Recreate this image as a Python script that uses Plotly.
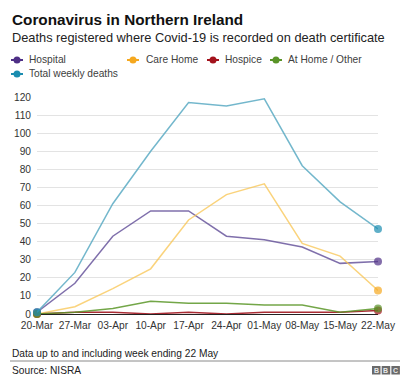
import plotly.graph_objects as go

weeks = ["20-Mar", "27-Mar", "03-Apr", "10-Apr", "17-Apr", "24-Apr", "01-May", "08-May", "15-May", "22-May"]
hospital = [1, 17, 43, 57, 57, 43, 41, 37, 28, 29]
care_home = [0, 4, 14, 25, 52, 66, 72, 39, 32, 13]
hospice = [0, 1, 1, 0, 1, 0, 1, 1, 1, 2]
at_home = [0, 1, 3, 7, 6, 6, 5, 5, 1, 3]
total = [1, 23, 61, 90, 117, 115, 119, 82, 62, 47]

series = [
    ("Hospital", hospital, "rgba(95,75,150,0.8)", "#4e2f86"),
    ("Care Home", care_home, "rgba(248,196,80,0.75)", "#f5a81f"),
    ("Hospice", hospice, "rgba(160,20,30,0.9)", "#a3121c"),
    ("At Home / Other", at_home, "rgba(90,150,40,0.85)", "#5a9428"),
    ("Total weekly deaths", total, "rgba(90,170,195,0.85)", "#1b8db0"),
]

# the page body adds an 8px margin, so the figure is drawn 8px in from the window edge
OFF = 8
W, H = 410 - OFF, 389 - OFF
# plot area in window pixels
PX0, PX1, PY0, PY1 = 37, 378, 97, 314
L, R, T, B = PX0 - OFF, W - (PX1 - OFF), PY0 - OFF, H - (PY1 - OFF)
PW, PH = PX1 - PX0, PY1 - PY0

def px(x):
    return (x - PX0) / PW

def py(y):
    return (PY1 - y) / PH

fig = go.Figure()
n = len(weeks)
for name, vals, lc, mc in series:
    sizes = [8] + [0] * (n - 2) + [8]
    fig.add_trace(go.Scatter(
        x=weeks, y=vals, mode="lines+markers", name=name,
        line=dict(color=lc, width=1.5),
        marker=dict(color=mc, size=sizes, line=dict(width=0)),
        cliponaxis=False, showlegend=False, hoverinfo="skip",
    ))

FONT = "Liberation Sans, Arial, sans-serif"
annotations = [
    dict(text="<b>Coronavirus in Northern Ireland</b>", x=px(10), y=py(19.5), xanchor="left", yanchor="middle",
         font=dict(size=15.3, color="#111", family=FONT)),
    dict(text="Deaths registered where Covid-19 is recorded on death certificate", x=px(10), y=py(37),
         xanchor="left", yanchor="middle", font=dict(size=12.8, color="#222", family=FONT)),
    dict(text="Data up to and including week ending 22 May", x=px(10), y=py(353.5), xanchor="left", yanchor="middle",
         font=dict(size=10.2, color="#222", family=FONT)),
    dict(text="Source: NISRA", x=px(10), y=py(370), xanchor="left", yanchor="middle",
         font=dict(size=10.2, color="#222", family=FONT)),
]
shapes = [
    dict(type="line", xref="paper", yref="paper", x0=px(10), x1=px(400), y0=py(361), y1=py(361),
         line=dict(color="#8a8a8a", width=1)),
]

legend_items = [
    ("Hospital", "#4e2f86", 17, 27, 60),
    ("Care Home", "#f5a81f", 133, 144, 60),
    ("Hospice", "#a3121c", 213, 223, 60),
    ("At Home / Other", "#5a9428", 276, 286, 60),
    ("Total weekly deaths", "#1b8db0", 17, 27, 74),
]
for name, col, cx, tx, ly in legend_items:
    shapes.append(dict(type="line", xref="paper", yref="paper", x0=px(cx - 6), x1=px(cx + 6),
                       y0=py(ly), y1=py(ly), line=dict(color=col, width=2)))
    shapes.append(dict(type="circle", xref="paper", yref="paper", xsizemode="pixel", ysizemode="pixel",
                       xanchor=px(cx), yanchor=py(ly), x0=-3.5, x1=3.5, y0=-3.5, y1=3.5,
                       fillcolor=col, line=dict(width=0)))
    annotations.append(dict(text=name, x=px(tx), y=py(ly), xanchor="left", yanchor="middle",
                            font=dict(size=10.2, color="#404040", family=FONT)))

# BBC logo
for i, letter in enumerate("BBC"):
    x0 = 372 + i * 9.7
    shapes.append(dict(type="rect", xref="paper", yref="paper", x0=px(x0), x1=px(x0 + 8.5),
                       y0=py(374.5), y1=py(366), fillcolor="#6a6a6a", line=dict(width=0)))
    annotations.append(dict(text="<b>%s</b>" % letter, x=px(x0 + 4.25), y=py(370.3), xanchor="center",
                            yanchor="middle", font=dict(size=7, color="#e8e8e8", family=FONT)))

for a in annotations:
    a.update(xref="paper", yref="paper", showarrow=False)

fig.update_layout(
    width=W, height=H, margin=dict(l=L, r=R, t=T, b=B, pad=0, autoexpand=False),
    paper_bgcolor="white", plot_bgcolor="white",
    annotations=annotations, shapes=shapes, showlegend=False,
    xaxis=dict(type="category", categoryorder="array", categoryarray=weeks, range=[0, n - 1],
               showgrid=False, zeroline=False, showline=False, ticks="",
               tickfont=dict(size=10.2, color="#333", family=FONT), ticklabelstandoff=4),
    yaxis=dict(range=[0, 120], dtick=10, showgrid=True, gridcolor="#e3e3e3", gridwidth=1,
               zeroline=True, zerolinecolor="#222", zerolinewidth=1.2, showline=False, ticks="",
               tickfont=dict(size=10.2, color="#333", family=FONT), ticklabelstandoff=5),
)

fig.write_html("out.html")
